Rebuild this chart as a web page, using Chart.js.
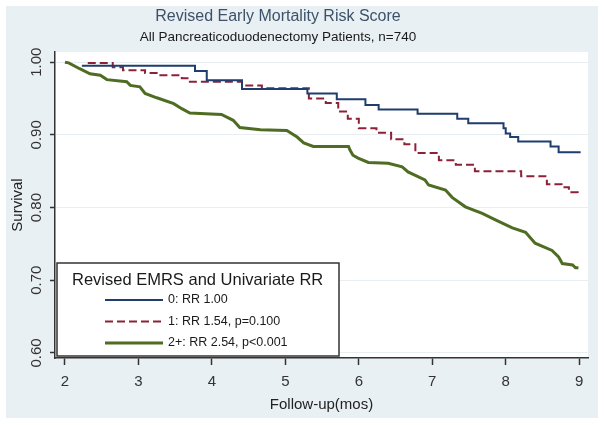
<!DOCTYPE html>
<html>
<head>
<meta charset="utf-8">
<script src="https://cdn.jsdelivr.net/npm/chart.js@4.4.1/dist/chart.umd.min.js"></script>
<style>
  html, body { margin: 0; padding: 0; background: #fff; }
</style>
</head>
<body>
<canvas id="chart" width="604" height="425"></canvas>
<script>
const titleText = "Revised Early Mortality Risk Score";
const subtitleText = "All Pancreaticoduodenectomy Patients, n=740";
const legendTitle = "Revised EMRS and Univariate RR";
const seriesLabels = ["0: RR 1.00", "1: RR 1.54, p=0.100", "2+: RR 2.54, p<0.001"];
const xTicks = [2, 3, 4, 5, 6, 7, 8, 9];
const yTicks = [0.6, 0.7, 0.8, 0.9, 1.0];

// Kaplan-Meier steps: time (months) and survival after each drop
const emrs0Time = [2.23, 3.77, 3.93, 4.41, 5.30, 5.70, 6.09, 6.27, 6.80, 7.34, 7.49, 7.97, 8.00, 8.06, 8.17, 8.61, 8.72, 9.02];
const emrs0Surv = [0.995, 0.988, 0.975, 0.963, 0.957, 0.949, 0.941, 0.935, 0.929, 0.922, 0.916, 0.909, 0.902, 0.897, 0.891, 0.884, 0.876, 0.876];

const emrs1Time = [2.31, 2.65, 2.79, 3.09, 3.27, 3.59, 3.70, 4.41, 4.68, 5.32, 5.55, 5.72, 5.85, 6.00, 6.24, 6.44, 6.62, 6.77, 7.09, 7.32, 7.58, 8.21, 8.56, 8.76, 8.86, 8.98];
const emrs1Surv = [0.999, 0.993, 0.989, 0.985, 0.982, 0.978, 0.973, 0.968, 0.964, 0.950, 0.944, 0.932, 0.922, 0.909, 0.903, 0.894, 0.887, 0.875, 0.865, 0.859, 0.850, 0.843, 0.832, 0.828, 0.821, 0.815];

// 2+ group has many small steps, so it is traced as a path through its corners
const emrs2Time = [2.00, 2.05, 2.20, 2.34, 2.48, 2.57, 2.84, 2.89, 3.02, 3.09, 3.25, 3.48, 3.59, 3.70, 4.13, 4.29, 4.38, 4.66, 5.02, 5.16, 5.25, 5.38, 5.86, 5.88, 5.92, 5.99, 6.13, 6.40, 6.59, 6.67, 6.90, 6.95, 7.18, 7.27, 7.45, 7.68, 7.86, 8.09, 8.27, 8.40, 8.63, 8.72, 8.77, 8.91, 8.95, 8.99];
const emrs2Surv = [1.000, 0.999, 0.991, 0.984, 0.982, 0.976, 0.973, 0.968, 0.966, 0.957, 0.951, 0.943, 0.936, 0.930, 0.928, 0.920, 0.910, 0.907, 0.906, 0.897, 0.889, 0.884, 0.884, 0.879, 0.872, 0.868, 0.862, 0.861, 0.856, 0.849, 0.838, 0.831, 0.824, 0.814, 0.801, 0.792, 0.783, 0.772, 0.766, 0.751, 0.741, 0.732, 0.723, 0.721, 0.717, 0.717];

const FONT = "'Liberation Sans', Arial, sans-serif";

function toPoints(times, surv) {
  return times.map((t, i) => ({ x: t, y: surv[i] }));
}

const backdrop = {
  id: "backdrop",
  beforeDraw(chart) {
    const { ctx, chartArea } = chart;
    ctx.save();
    ctx.fillStyle = "#ffffff";
    ctx.fillRect(0, 0, chart.width, chart.height);
    ctx.fillStyle = "#e9f0f3";
    ctx.fillRect(6, 6, 592, 412);
    ctx.fillStyle = "#ffffff";
    ctx.fillRect(chartArea.left, chartArea.top, chartArea.right - chartArea.left, chartArea.bottom - chartArea.top);

    ctx.textAlign = "center";
    ctx.textBaseline = "middle";
    ctx.fillStyle = "#3d5168";
    ctx.font = "16px " + FONT;
    ctx.fillText(titleText, 278, 17);
    ctx.fillStyle = "#1a1a1a";
    ctx.font = "13.5px " + FONT;
    ctx.fillText(subtitleText, 278, 37);
    ctx.restore();
  }
};

const boxLegend = {
  id: "boxLegend",
  afterDatasetsDraw(chart) {
    const { ctx, chartArea } = chart;
    const left = chartArea.left + 2, w = 282, h = 93;
    const top = chartArea.bottom - 2 - h;
    ctx.save();
    ctx.fillStyle = "#ffffff";
    ctx.fillRect(left, top, w, h);
    ctx.strokeStyle = "#333333";
    ctx.lineWidth = 1.5;
    ctx.strokeRect(left, top, w, h);

    ctx.fillStyle = "#1a1a1a";
    ctx.textAlign = "left";
    ctx.textBaseline = "middle";
    ctx.font = "16.5px " + FONT;
    ctx.fillText(legendTitle, left + 15, top + 17);

    ctx.font = "12.5px " + FONT;
    chart.data.datasets.forEach((ds, i) => {
      const y = top + 37 + i * 21.5;
      ctx.strokeStyle = ds.borderColor;
      ctx.lineWidth = ds.borderWidth;
      ctx.setLineDash(ds.borderDash || []);
      ctx.beginPath();
      ctx.moveTo(left + 48, y);
      ctx.lineTo(left + 106, y);
      ctx.stroke();
      ctx.setLineDash([]);
      ctx.fillStyle = "#1a1a1a";
      ctx.fillText(ds.label, left + 111, y);
    });
    ctx.restore();
  }
};

new Chart(document.getElementById("chart"), {
  type: "line",
  data: {
    datasets: [
      {
        label: seriesLabels[0],
        data: toPoints(emrs0Time, emrs0Surv),
        borderColor: "#1f3d6e",
        borderWidth: 2,
        stepped: true,
        pointRadius: 0
      },
      {
        label: seriesLabels[1],
        data: toPoints(emrs1Time, emrs1Surv),
        borderColor: "#8c2238",
        borderWidth: 2,
        borderDash: [8, 4],
        stepped: true,
        pointRadius: 0
      },
      {
        label: seriesLabels[2],
        data: toPoints(emrs2Time, emrs2Surv),
        borderColor: "#4f6d22",
        borderWidth: 3,
        stepped: false,
        tension: 0,
        pointRadius: 0
      }
    ]
  },
  options: {
    responsive: false,
    animation: false,
    devicePixelRatio: 1,
    layout: { padding: { top: 52, left: 6, right: 16, bottom: 7 } },
    plugins: {
      legend: { display: false },
      tooltip: { enabled: false }
    },
    scales: {
      x: {
        type: "linear",
        min: 1.864,
        max: 9.12,
        afterBuildTicks: scale => { scale.ticks = xTicks.map(v => ({ value: v })); },
        afterFit: scale => { scale.height = 60; },
        grid: { drawOnChartArea: false, drawTicks: true, tickLength: 7, tickColor: "#333333", tickWidth: 1.5 },
        border: { color: "#333333", width: 1.5 },
        ticks: { color: "#333333", font: { family: FONT, size: 15 }, padding: 8, autoSkip: false, maxRotation: 0 },
        title: { display: true, text: "Follow-up(mos)", color: "#222222", font: { family: FONT, size: 15 }, padding: { top: 0, bottom: 4 } }
      },
      y: {
        type: "linear",
        min: 0.593,
        max: 1.014,
        afterBuildTicks: scale => { scale.ticks = yTicks.map(v => ({ value: v })); },
        afterFit: scale => { scale.width = 49; },
        grid: { color: "#e8eef1", lineWidth: 1, drawTicks: true, tickLength: 5, tickColor: "#333333", tickWidth: 1.5 },
        border: { color: "#333333", width: 1.5 },
        ticks: {
          color: "#333333",
          font: { family: FONT, size: 15 },
          minRotation: 90,
          maxRotation: 90,
          crossAlign: "center",
          padding: -1,
          callback: v => Number(v).toFixed(2)
        },
        title: { display: true, text: "Survival", color: "#222222", font: { family: FONT, size: 15 }, padding: { top: 3, bottom: 0 } }
      }
    }
  },
  plugins: [backdrop, boxLegend]
});
</script>
</body>
</html>
